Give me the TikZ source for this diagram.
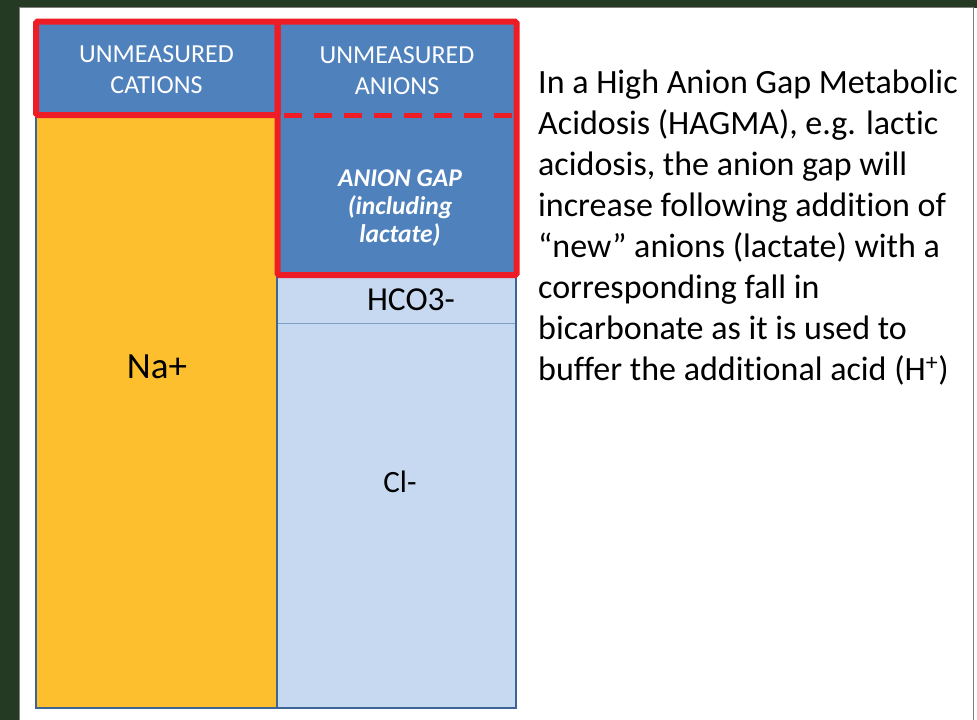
\documentclass[tikz,border=0pt]{standalone}
\usepackage{fontspec}
\setmainfont{Carlito}[Ligatures=NoCommon]
\definecolor{bggreen}{HTML}{243A22}
\definecolor{panelgray}{HTML}{7F7F7F}
\definecolor{boxblue}{HTML}{4F81BD}
\definecolor{edgeblue}{HTML}{3C6494}
\definecolor{lightblue}{HTML}{C6D9F0}
\definecolor{linelight}{HTML}{7F9FCB}
\definecolor{natorange}{HTML}{FDBF2D}
\definecolor{markred}{HTML}{EE1C25}
\tikzset{
  colborder/.style={draw=edgeblue, line width=2pt},
  redbox/.style={draw=markred, line width=6pt, rounded corners=1.5pt},
  whitelbl/.style={text=white, inner sep=0pt, align=center, anchor=base},
  blacklbl/.style={text=black, inner sep=0pt, anchor=base},
}
\begin{document}
\begin{tikzpicture}[x=1pt,y=-1pt]
\useasboundingbox (0,0) rectangle (977,720);
\fill[bggreen] (0,0) rectangle (977,720);
\fill[white] (19.5,7.5) rectangle (977,725);
\draw[panelgray, line width=1.5pt] (19.5,725) -- (19.5,7.5) -- (973.5,7.5) -- (973.5,725);
% left column
\fill[natorange] (36,115) rectangle (277,708);
\fill[boxblue] (36,21) rectangle (277,115);
\draw[colborder] (36,21) rectangle (277,708);
% right column
\fill[boxblue] (277,21) rectangle (516,275);
\fill[lightblue] (277,275) rectangle (516,708);
\draw[linelight, line width=1pt] (277,323) -- (516,323);
\draw[colborder] (277,21) rectangle (516,708);
% red marks
\draw[redbox] (36,21.5) rectangle (277.5,115);
\draw[redbox] (277.5,21.5) rectangle (516.5,275);
\coordinate (dashL) at (284,115.5);
\coordinate (dashR) at (513,115.5);
\draw[markred, line width=5pt, dash pattern=on 18pt off 12pt] (dashL) -- (dashR);
% labels
\node[whitelbl, font=\fontsize{26}{31}\selectfont] (ucat) at (156.5,93) {UNMEASURED\\CATIONS};
\node[whitelbl, font=\fontsize{26}{31}\selectfont] (uan) at (397,94) {UNMEASURED\\ANIONS};
\node[whitelbl, font=\fontsize{25.5}{28}\selectfont\bfseries\itshape] (gap) at (400,242) {ANION GAP\\(including\\lactate)};
\node[blacklbl, font=\fontsize{37}{44}\selectfont] (na) at (157,378) {Na+};
\node[blacklbl, font=\fontsize{33.5}{38}\selectfont] (hco) at (411,310) {HCO3-};
\node[blacklbl, font=\fontsize{31}{37}\selectfont] (cl) at (400,492) {Cl-};
\node[blacklbl, anchor=base west, align=left, font=\fontsize{34}{41}\selectfont] (para) at (538,380)
 {In a High Anion Gap Metabolic\\Acidosis (HAGMA), e.g. lactic\\acidosis, the anion gap will\\increase following addition of\\“new” anions (lactate) with a\\corresponding fall in\\bicarbonate as it is used to\\buffer the additional acid (H\textsuperscript{+})};
\end{tikzpicture}
\end{document}
